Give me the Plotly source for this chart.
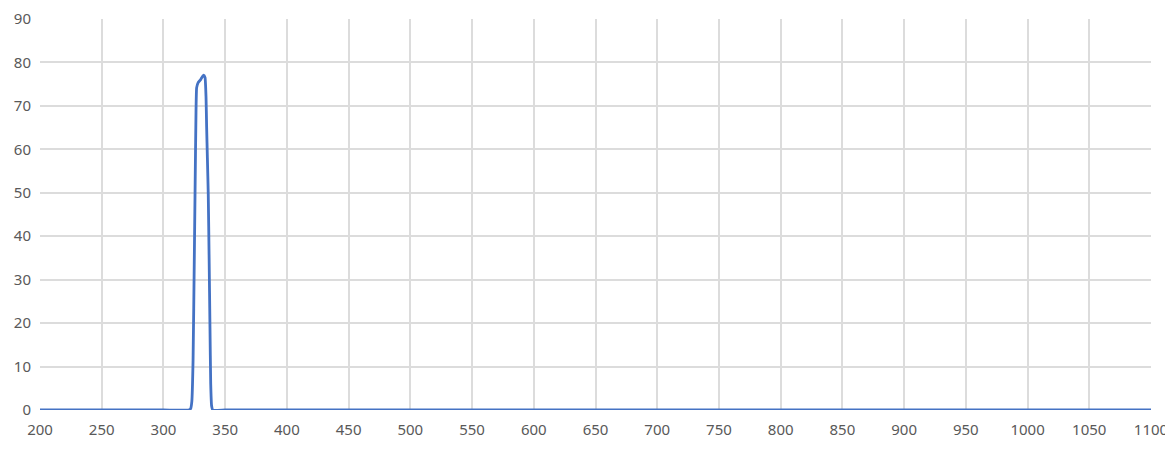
import plotly.graph_objects as go

# wavelength (nm) and transmission (%)
wavelength = [200, 300, 320, 322, 323, 324, 325, 325.6, 326.4, 326.9, 328.2,
              330, 331, 332.6, 333.7, 334.5, 335, 335.6, 336.3, 337, 337.7,
              338.3, 339, 340, 350, 400, 500, 600, 700, 800, 900, 1000, 1100]
transmission = [0, 0, 0, 0.3, 2, 11.5, 35, 50, 69, 74.2, 75.4,
                76, 76.5, 77.1, 76.5, 72, 65, 58, 49.7, 35, 19,
                6, 1, 0, 0, 0, 0, 0, 0, 0, 0, 0, 0]

x_ticks = list(range(200, 1101, 50))
y_ticks = list(range(0, 91, 10))

GRID = "#dcdcdc"
TEXT = "#595959"

fig = go.Figure()
fig.add_trace(go.Scatter(
    x=wavelength,
    y=transmission,
    mode="lines",
    line={"color": "#4472c4", "width": 2.8, "shape": "spline", "smoothing": 0.4},
    showlegend=False,
    hoverinfo="x+y",
))

# the page body adds 8px of margin, so the figure is sized/offset for that
fig.update_layout(
    width=1165,
    height=438,
    margin={"l": 32, "r": 22, "t": 11, "b": 36, "autoexpand": False},
    plot_bgcolor="white",
    paper_bgcolor="white",
    font={"family": "Noto Sans, Open Sans, sans-serif", "size": 15, "color": TEXT},
)
fig.update_xaxes(
    range=[200, 1100],
    tickvals=x_ticks,
    showgrid=True,
    gridcolor=GRID,
    gridwidth=1.5,
    zeroline=False,
    showline=False,
    ticks="",
    automargin=False,
    ticklabeloverflow="allow",
    ticklabelstandoff=9,
)
fig.update_yaxes(
    range=[0, 90],
    tickvals=y_ticks,
    showgrid=True,
    gridcolor=GRID,
    gridwidth=1.5,
    zeroline=False,
    showline=False,
    ticks="",
    automargin=False,
    ticklabeloverflow="allow",
    ticklabelstandoff=8,
)

fig.write_html("out.html")
